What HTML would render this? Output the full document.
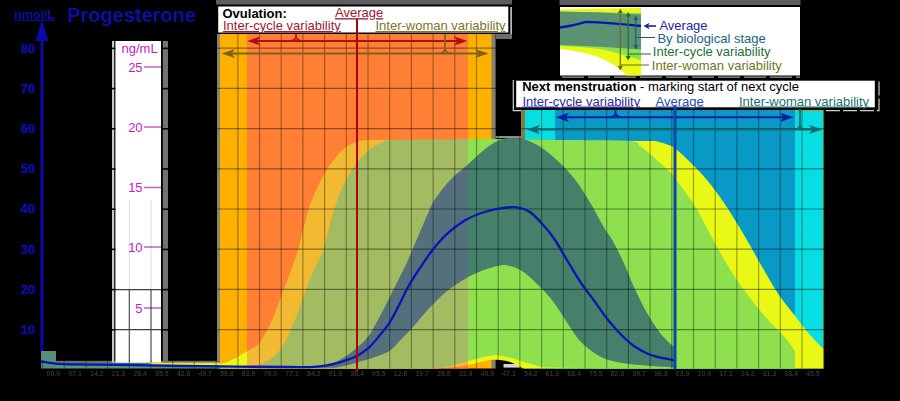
<!DOCTYPE html>
<html><head><meta charset="utf-8"><title>Progesterone</title>
<style>
html,body{margin:0;padding:0;background:#000;}
body{width:900px;height:401px;overflow:hidden;}
svg{display:block;}
text{font-family:"Liberation Sans",sans-serif;}
</style></head>
<body>
<svg width="900" height="401" viewBox="0 0 900 401">
<defs>
<path id="py" d="M220.0 364.0 C221.3 363.6 225.7 362.7 228.0 361.8 C230.3 360.9 232.0 359.9 234.0 358.8 C236.0 357.8 237.9 356.7 240.0 355.5 C242.1 354.3 243.8 353.3 246.8 351.5 C249.8 349.7 254.8 347.8 258.0 344.5 C261.2 341.2 263.4 336.6 266.0 332.0 C268.6 327.4 270.6 323.8 273.5 316.8 C276.4 309.8 280.2 298.9 283.5 290.0 C286.8 281.1 291.1 270.1 293.5 263.4 C295.9 256.7 296.2 255.9 298.0 249.7 C299.8 243.5 302.0 233.4 304.0 226.0 C306.0 218.6 307.5 212.0 310.0 205.0 C312.5 198.0 316.0 190.3 319.0 184.0 C322.0 177.7 324.5 172.7 328.0 167.4 C331.5 162.2 336.5 156.2 340.0 152.5 C343.5 148.8 346.0 146.8 349.0 145.0 C352.0 143.2 355.2 142.2 358.0 141.4 C360.8 140.6 364.7 140.2 366.0 140.0 L655.0 141.0 C656.3 141.3 660.5 142.2 663.0 143.0 C665.5 143.8 667.8 144.5 670.0 145.5 C672.2 146.5 672.7 146.2 676.0 149.0 C679.3 151.8 684.8 156.8 690.0 162.0 C695.2 167.2 701.2 173.1 707.0 180.0 C712.8 186.9 718.8 195.1 724.6 203.7 C730.4 212.3 736.8 222.9 742.0 231.6 C747.2 240.3 750.2 245.9 756.0 256.0 C761.8 266.1 770.6 282.2 777.0 292.0 C783.4 301.8 789.2 308.3 794.4 315.0 C799.6 321.7 803.1 326.7 808.0 332.4 C812.9 338.1 820.9 346.2 823.5 349.0 L823.5 368.5 L524.0 368.5 C521.7 367.4 514.5 363.4 510.0 362.0 C505.5 360.6 501.2 360.0 497.0 359.8 C492.8 359.6 489.5 360.2 485.0 361.0 C480.5 361.8 475.0 363.5 470.0 364.5 C465.0 365.5 460.5 366.3 455.0 367.0 C449.5 367.7 440.0 368.2 437.0 368.5 L220 368.5 Z"/>
<path id="pg" d="M220.0 367.0 C223.3 366.9 233.3 366.8 240.0 366.5 C246.7 366.2 253.3 367.8 260.0 365.0 C266.7 362.2 274.4 356.9 280.0 350.0 C285.6 343.1 289.6 332.4 293.5 323.5 C297.4 314.6 300.2 305.7 303.6 296.8 C307.0 287.9 310.3 277.9 313.6 270.0 C316.9 262.1 320.5 258.0 323.4 249.7 C326.3 241.4 328.2 229.4 331.0 220.0 C333.8 210.6 337.0 200.5 340.0 193.0 C343.0 185.5 346.0 180.3 349.0 175.0 C352.0 169.7 354.5 165.7 358.0 161.4 C361.5 157.2 366.0 152.7 370.0 149.5 C374.0 146.3 378.3 144.1 382.0 142.5 C385.7 140.9 382.3 140.5 392.0 140.0 C401.7 139.5 423.7 139.7 440.0 139.5 C456.3 139.3 481.7 139.1 490.0 139.0 L560.0 140.0 C571.5 140.2 615.7 140.0 629.0 141.0 C642.3 142.0 636.5 143.8 640.0 146.0 C643.5 148.2 646.7 151.2 650.0 154.0 C653.3 156.8 656.3 159.7 660.0 163.0 C663.7 166.3 668.7 170.3 672.0 174.0 C675.3 177.7 676.2 179.7 680.0 185.0 C683.8 190.3 690.0 197.8 695.0 206.0 C700.0 214.2 705.0 224.8 710.0 234.0 C715.0 243.2 720.0 252.6 725.0 261.0 C730.0 269.4 735.0 277.2 740.0 284.5 C745.0 291.8 750.0 298.2 755.0 304.5 C760.0 310.8 765.0 316.5 770.0 322.0 C775.0 327.5 780.8 332.7 785.0 337.5 C789.2 342.3 793.3 348.8 795.0 351.0 L795 368.5 L600.0 368.5 C591.3 368.3 558.7 368.0 548.0 367.5 C537.3 367.0 540.0 366.4 536.0 365.5 C532.0 364.6 528.3 363.3 524.0 362.0 C519.7 360.7 514.7 358.6 510.0 357.5 C505.3 356.4 500.3 355.4 496.0 355.3 C491.7 355.2 488.7 356.1 484.0 357.0 C479.3 357.9 473.3 359.6 468.0 361.0 C462.7 362.4 457.2 364.2 452.0 365.5 C446.8 366.8 439.5 368.0 437.0 368.5 L220 368.5 Z"/>
<path id="pt" d="M305.0 367.8 C307.2 367.6 313.0 367.8 318.0 366.8 C323.0 365.8 330.3 363.8 335.0 362.0 C339.7 360.2 342.4 358.4 346.0 356.0 C349.6 353.6 353.0 351.1 356.8 347.7 C360.6 344.3 364.8 341.2 368.8 335.7 C372.8 330.2 377.2 321.3 380.7 314.8 C384.2 308.3 386.7 302.9 389.7 296.9 C392.7 290.9 396.0 284.3 398.7 278.9 C401.4 273.5 403.4 270.0 406.0 264.5 C408.6 259.0 411.5 251.8 414.0 246.0 C416.5 240.2 418.7 234.9 421.0 229.5 C423.3 224.1 425.8 218.3 428.0 213.5 C430.2 208.7 430.4 206.3 434.0 200.8 C437.6 195.3 444.2 186.6 449.8 180.6 C455.4 174.6 461.5 170.2 467.3 165.0 C473.1 159.8 479.5 153.3 484.7 149.2 C489.9 145.1 494.3 142.4 498.7 140.5 C503.1 138.6 506.6 138.2 511.0 138.0 C515.4 137.8 519.8 137.8 525.0 139.5 C530.2 141.2 536.2 144.1 542.0 148.0 C547.8 151.9 554.5 157.8 560.0 163.0 C565.5 168.2 569.8 172.8 574.8 179.3 C579.8 185.8 584.7 193.6 589.7 201.8 C594.7 210.0 600.9 222.3 604.7 228.7 C608.5 235.1 609.1 234.2 612.3 240.0 C615.5 245.8 620.4 255.7 624.0 263.5 C627.6 271.3 630.1 278.6 634.0 287.0 C637.9 295.4 643.1 306.2 647.6 314.0 C652.1 321.8 656.4 328.3 661.0 334.0 C665.6 339.7 672.7 345.7 675.0 348.0 L675 367.6 C671.0 367.3 658.9 366.6 651.0 366.0 C643.1 365.4 634.8 364.9 627.5 363.8 C620.2 362.7 612.6 361.2 607.0 359.4 C601.4 357.5 598.5 355.8 594.0 352.7 C589.5 349.6 584.5 346.1 580.0 341.0 C575.5 335.9 571.4 328.9 567.0 322.4 C562.6 315.9 558.0 307.9 553.5 302.0 C549.0 296.1 544.8 291.8 540.0 287.0 C535.2 282.2 529.7 276.4 525.0 273.0 C520.3 269.6 516.2 267.8 512.0 266.5 C507.8 265.2 505.3 264.7 500.0 265.5 C494.7 266.3 485.4 269.4 480.0 271.4 C474.6 273.4 471.6 275.1 467.5 277.4 C463.4 279.6 459.5 282.1 455.5 284.9 C451.5 287.6 447.5 290.4 443.5 293.9 C439.5 297.4 435.6 301.6 431.6 305.8 C427.6 310.0 423.1 315.3 419.6 319.3 C416.1 323.3 413.6 326.6 410.6 329.8 C407.6 333.0 405.2 335.2 401.7 338.7 C398.2 342.2 394.2 347.6 389.7 350.7 C385.2 353.8 380.2 355.0 374.8 357.0 C369.4 359.0 361.8 361.1 357.0 362.5 C352.2 363.9 349.7 364.6 346.0 365.5 C342.3 366.4 336.8 367.4 335.0 367.8 Z"/>
<clipPath id="cIn"><rect x="247" y="30" width="221" height="345"/></clipPath>
<clipPath id="cOut"><rect x="0" y="30" width="247" height="345"/><rect x="468" y="30" width="440" height="345"/></clipPath>
<filter id="b1" x="-5%" y="-20%" width="110%" height="140%"><feGaussianBlur stdDeviation="0.7"/></filter>
<filter id="b2" x="-5%" y="-20%" width="110%" height="140%"><feGaussianBlur stdDeviation="0.55"/></filter>
</defs>
<rect width="900" height="401" fill="#000"/>
<!-- top gray bars -->
<rect x="216" y="0" width="296" height="4.5" fill="#5e5e5e"/>
<rect x="559.5" y="0" width="241" height="5" fill="#5e5e5e"/>

<!-- ovulation region -->
<rect x="217" y="34" width="4" height="334.5" fill="#8a8468"/>
<rect x="491" y="34" width="4.6" height="334.5" fill="#85806a"/>
<rect x="220" y="34" width="271.5" height="334.5" fill="#fdb000"/>
<rect x="247" y="34" width="221" height="334.5" fill="#ff7f35"/>
<!-- menstruation region -->
<rect x="521" y="110" width="4.5" height="258.5" fill="#8a7a40"/>
<rect x="525" y="110" width="298.5" height="258.5" fill="#08dde2"/>
<rect x="555" y="110" width="240" height="258.5" fill="#0899c6"/>
<path d="M795 110.4H823.6V368.5" stroke="#a0a030" stroke-width="1" fill="none"/>

<rect x="503.5" y="364" width="17" height="3.6" fill="#d4d4d4"/>
<rect x="495.6" y="136" width="25.4" height="2.2" fill="#8c8c8c"/>
<rect x="56" y="360.8" width="164" height="2.6" fill="#6e6e6e"/>
<!-- ng/mL panel -->
<rect x="112" y="41" width="2.2" height="321.7" fill="#c8c8c8"/>
<rect x="162.8" y="41" width="5.2" height="321.7" fill="#727272"/>
<rect x="115.4" y="41" width="45.6" height="321.7" fill="#fff"/>
<g fill="#c41cc4" font-size="13">
<text x="121.5" y="52.5">ng/mL</text>
<text x="142.6" y="71.6" text-anchor="end">25</text>
<text x="142.6" y="131.6" text-anchor="end">20</text>
<text x="142.6" y="192" text-anchor="end">15</text>
<text x="142.6" y="251.6" text-anchor="end">10</text>
<text x="142.6" y="312.6" text-anchor="end">5</text>
</g>
<g stroke="#c860c8" stroke-width="1.3">
<path d="M144 67H161M144 127H161M144 187.5H161M144 247H161M144 308H161"/>
</g>

<g stroke="#000" fill="none">
<path d="M129.3 200V290M151 200V290" stroke-opacity="0.12" stroke-width="1.2"/>
<path d="M129.3 289.5V362M151 289.5V362M115 289.6H161M115 329.6H161" stroke-opacity="0.75" stroke-width="1.1"/>
</g>
<g fill="#000">
<rect x="111" y="47.6" width="4.4" height="1.6"/><rect x="111" y="87.8" width="4.4" height="1.6"/><rect x="111" y="128" width="4.4" height="1.6"/><rect x="111" y="168.2" width="4.4" height="1.6"/><rect x="111" y="208.4" width="4.4" height="1.6"/><rect x="111" y="248.6" width="4.4" height="1.6"/><rect x="111" y="288.8" width="4.4" height="1.6"/><rect x="111" y="329" width="4.4" height="1.6"/>
<rect x="161" y="47.6" width="8" height="1.6"/><rect x="161" y="87.8" width="8" height="1.6"/><rect x="161" y="128" width="8" height="1.6"/><rect x="161" y="168.2" width="8" height="1.6"/><rect x="161" y="208.4" width="8" height="1.6"/><rect x="161" y="248.6" width="8" height="1.6"/><rect x="161" y="288.8" width="8" height="1.6"/><rect x="161" y="329" width="8" height="1.6"/>
</g>
<!-- left axis -->
<path d="M42 41V352" stroke="#0a0aa8" stroke-width="3" fill="none"/>
<path d="M42 20L35.5 41H48.5Z" fill="#0a0aa8"/>
<g filter="url(#b2)" fill="#0a0aa8" stroke="#0a0aa8" stroke-width="0.5" font-size="13" font-weight="bold" text-anchor="end">
<text x="35" y="52.5">80</text>
<text x="35" y="92.7">70</text>
<text x="35" y="132.9">60</text>
<text x="35" y="173.1">50</text>
<text x="35" y="213.3">40</text>
<text x="35" y="253.5">30</text>
<text x="35" y="293.7">20</text>
<text x="35" y="333.9">10</text>
</g>
<!-- left bottom strip -->
<rect x="41" y="351" width="15" height="17.5" fill="#5a8c7a"/>
<rect x="56" y="363.2" width="164" height="5.3" fill="#529a7a"/>
<rect x="150" y="362.6" width="70" height="2.6" fill="#e4ec20"/>
<!-- curves, outside inner ovulation -->
<g clip-path="url(#cOut)">
<use href="#py" fill="#eaf816"/>
<use href="#pg" fill="#8fe04e"/>
<use href="#pt" fill="#44806a"/>
</g>
<g clip-path="url(#cIn)">
<use href="#py" fill="#f2b933"/>
<use href="#pg" fill="#a3bc62"/>
<use href="#pt" fill="#54707c"/>
</g>

<!-- grid -->
<g stroke="#000" stroke-opacity="0.42" stroke-width="1.2" fill="none">
<path stroke-opacity="0.34" d="M42.5 360.5V368.5"/>
<path stroke-opacity="0.34" d="M64.2 360.5V368.5"/>
<path stroke-opacity="0.34" d="M85.9 360.5V368.5"/>
<path stroke-opacity="0.34" d="M107.6 360.5V368.5"/>
<path stroke-opacity="0.34" d="M129.3 360.5V368.5"/>
<path stroke-opacity="0.34" d="M151.0 360.5V368.5"/>
<path stroke-opacity="0.34" d="M172.7 360.5V368.5"/>
<path stroke-opacity="0.34" d="M194.4 360.5V368.5"/>
<path stroke-opacity="0.34" d="M216.1 34.0V368.5"/>
<path stroke-opacity="0.34" d="M237.8 34.0V368.5"/>
<path stroke-opacity="0.34" d="M259.5 34.0V368.5"/>
<path stroke-opacity="0.34" d="M281.2 34.0V368.5"/>
<path stroke-opacity="0.34" d="M302.9 34.0V368.5"/>
<path stroke-opacity="0.34" d="M324.6 34.0V368.5"/>
<path stroke-opacity="0.34" d="M346.3 34.0V368.5"/>
<path stroke-opacity="0.34" d="M368.0 34.0V368.5"/>
<path stroke-opacity="0.34" d="M389.7 34.0V368.5"/>
<path stroke-opacity="0.34" d="M411.4 34.0V368.5"/>
<path stroke-opacity="0.34" d="M433.1 34.0V368.5"/>
<path stroke-opacity="0.34" d="M454.8 34.0V368.5"/>
<path stroke-opacity="0.34" d="M476.5 34.0V368.5"/>
<path stroke-opacity="0.34" d="M498.2 34.0V368.5"/>
<path stroke-opacity="0.34" d="M519.9 34.0V368.5"/>
<path stroke-opacity="0.34" d="M541.6 34.0V368.5"/>
<path stroke-opacity="0.34" d="M563.3 34.0V368.5"/>
<path stroke-opacity="0.34" d="M585.0 34.0V368.5"/>
<path stroke-opacity="0.34" d="M606.7 34.0V368.5"/>
<path stroke-opacity="0.34" d="M628.4 34.0V368.5"/>
<path stroke-opacity="0.34" d="M650.1 34.0V368.5"/>
<path stroke-opacity="0.34" d="M671.8 34.0V368.5"/>
<path stroke-opacity="0.34" d="M693.5 34.0V368.5"/>
<path stroke-opacity="0.34" d="M715.2 34.0V368.5"/>
<path stroke-opacity="0.34" d="M736.9 34.0V368.5"/>
<path stroke-opacity="0.34" d="M758.6 34.0V368.5"/>
<path stroke-opacity="0.34" d="M780.3 34.0V368.5"/>
<path stroke-opacity="0.34" d="M802.0 34.0V368.5"/>
<path stroke-opacity="0.34" d="M823.7 34.0V368.5"/>
<path d="M216 369.8H824"/>
<path d="M216 329.6H824"/>
<path d="M216 289.4H824"/>
<path d="M216 249.2H824"/>
<path d="M216 209.0H824"/>
<path d="M216 168.8H824"/>
<path d="M216 128.6H824"/>
<path d="M216 88.4H824"/>
<path d="M216 48.2H824"/>
</g>

<!-- average lines -->
<!-- blue curve -->
<path d="M42.0 361.5 C43.2 361.7 46.5 362.4 49.0 362.8 C51.5 363.2 53.5 363.6 57.0 363.8 C60.5 364.1 59.5 364.1 70.0 364.3 C80.5 364.5 98.3 364.6 120.0 364.9 C141.7 365.2 171.7 365.8 200.0 366.2 C228.3 366.6 271.0 366.9 290.0 367.0 C309.0 367.1 307.8 367.2 314.0 366.9 C320.2 366.6 322.9 366.0 327.0 365.3 C331.1 364.6 333.9 364.2 338.9 362.7 C343.9 361.1 351.8 358.5 356.8 356.0 C361.8 353.5 364.8 351.3 368.8 347.7 C372.8 344.1 377.2 338.4 380.7 334.2 C384.2 330.0 386.7 327.0 389.7 322.3 C392.7 317.6 395.7 311.5 398.7 305.8 C401.7 300.1 404.6 293.4 407.6 287.9 C410.6 282.4 413.7 277.6 416.6 273.0 C419.5 268.4 422.3 264.4 425.0 260.5 C427.7 256.6 430.3 252.9 433.0 249.5 C435.7 246.1 438.2 243.0 441.0 240.0 C443.8 237.0 445.4 234.8 449.8 231.3 C454.2 227.8 461.5 222.2 467.3 219.0 C473.1 215.8 479.5 213.7 484.7 212.0 C489.9 210.3 493.5 209.4 498.7 208.6 C503.9 207.8 510.8 206.7 516.0 207.3 C521.2 207.9 525.2 208.7 530.0 212.0 C534.8 215.3 540.8 222.3 545.0 227.0 C549.2 231.7 551.3 234.5 555.0 240.0 C558.7 245.5 562.8 253.0 567.0 260.0 C571.2 267.0 575.9 275.2 580.4 282.0 C584.9 288.8 589.5 294.3 594.0 300.5 C598.5 306.7 602.8 313.4 607.3 319.0 C611.8 324.6 616.2 329.7 620.7 334.2 C625.2 338.7 629.5 342.8 634.0 346.0 C638.5 349.2 643.1 351.8 647.6 353.7 C652.1 355.6 656.4 356.6 661.0 357.7 C665.6 358.8 672.7 359.9 675.0 360.4" stroke="#0a14b4" stroke-width="2.3" fill="none" stroke-linecap="round"/>

<!-- bottom label smudges -->
<g id="smudge" filter="url(#b1)" fill="#323232" font-size="7" font-weight="bold" text-anchor="middle"><text x="53.4" y="376.3">00.0</text><text x="75.0" y="376.3">07.1</text><text x="96.8" y="376.3">14.2</text><text x="118.4" y="376.3">21.3</text><text x="140.2" y="376.3">28.4</text><text x="161.8" y="376.3">35.5</text><text x="183.5" y="376.3">42.6</text><text x="205.2" y="376.3">49.7</text><text x="226.9" y="376.3">56.8</text><text x="248.6" y="376.3">63.9</text><text x="270.4" y="376.3">70.0</text><text x="292.1" y="376.3">77.1</text><text x="313.8" y="376.3">84.2</text><text x="335.4" y="376.3">91.3</text><text x="357.2" y="376.3">98.4</text><text x="378.9" y="376.3">05.5</text><text x="400.6" y="376.3">12.6</text><text x="422.2" y="376.3">19.7</text><text x="443.9" y="376.3">26.8</text><text x="465.7" y="376.3">33.9</text><text x="487.4" y="376.3">40.0</text><text x="509.1" y="376.3">47.1</text><text x="530.8" y="376.3">54.2</text><text x="552.4" y="376.3">61.3</text><text x="574.1" y="376.3">68.4</text><text x="595.9" y="376.3">75.5</text><text x="617.5" y="376.3">82.6</text><text x="639.2" y="376.3">89.7</text><text x="661.0" y="376.3">96.8</text><text x="682.6" y="376.3">03.9</text><text x="704.4" y="376.3">10.0</text><text x="726.0" y="376.3">17.1</text><text x="747.8" y="376.3">24.2</text><text x="769.5" y="376.3">31.3</text><text x="791.1" y="376.3">38.4</text><text x="812.9" y="376.3">45.5</text></g>


<!-- arrows ovulation -->
<g fill="none" stroke-width="2">
<path d="M252 41H462" stroke="#b01014"/>
<path d="M226 53.5H484" stroke="#80601c"/>
</g>
<path d="M247 41L260.5 36.4L257 41L260.5 45.6Z" fill="#b01014"/>
<path d="M467.5 41L454 36.4L457.5 41L454 45.6Z" fill="#b01014"/>
<path d="M221.5 53.5L235 48.9L231.5 53.5L235 58.1Z" fill="#80601c"/>
<path d="M488.5 53.5L475 48.9L478.5 53.5L475 58.1Z" fill="#80601c"/>
<path d="M296 33.5V36Q296 40.5 289.5 41M296 36Q296 40.5 302.5 41" stroke="#b01014" stroke-width="1.7" fill="none"/>
<path d="M445 33.5V48.5Q445 53 438.5 53.5M445 48.5Q445 53 451.5 53.5" stroke="#80601c" stroke-width="1.7" fill="none"/>
<!-- arrows menstruation -->
<g fill="none" stroke-width="2">
<path d="M560 117.3H789" stroke="#0c1ca0"/>
<path d="M531 129.5H818" stroke="#186870"/>
</g>
<path d="M555.5 117.3L569 112.7L565.5 117.3L569 121.9Z" fill="#0c1ca0"/>
<path d="M793.5 117.3L780 112.7L783.5 117.3L780 121.9Z" fill="#0c1ca0"/>
<path d="M526.5 129.5L540 124.9L536.5 129.5L540 134.1Z" fill="#186870"/>
<path d="M822.5 129.5L809 124.9L812.5 129.5L809 134.1Z" fill="#186870"/>
<path d="M615.5 108.5V112.3Q615.5 116.8 609 117.3M615.5 112.3Q615.5 116.8 622 117.3" stroke="#0c1ca0" stroke-width="1.7" fill="none"/>
<path d="M800 108.5V124.5Q800 129 793.5 129.5M800 124.5Q800 129 806.5 129.5" stroke="#186870" stroke-width="1.7" fill="none"/>

<rect x="496" y="34" width="16" height="5" fill="#6c6c6c"/>
<rect x="510.4" y="7" width="1.4" height="27" fill="#e4e4e4"/>
<g stroke="#cfcfcf" stroke-width="1.2" fill="none">
<path d="M513.3 80V110.6H521" />
<path d="M826 110.6H879V80" stroke-dasharray="14 3"/>
<path d="M562 77.2H800" stroke-dasharray="22 4" stroke="#9a9a9a"/>
</g>
<!-- Ovulation box -->
<rect x="217.5" y="5.8" width="291.5" height="27.4" fill="#fff" stroke="#000" stroke-width="1.4"/>
<text x="222.5" y="17.8" font-size="13" font-weight="bold" fill="#000">Ovulation:</text>
<text x="335" y="17.2" font-size="13" fill="#a0182c" text-decoration="underline">Average</text>
<text x="223" y="30" font-size="13" fill="#a0182c" text-decoration="underline">Inter-cycle variability</text>
<text x="375.5" y="30" font-size="13" fill="#7a7424" text-decoration="underline">Inter-woman variability</text>

<!-- Next menstruation box -->
<rect x="515.5" y="80" width="360" height="28" fill="#fff" stroke="#000" stroke-width="1.4"/>
<text x="522.2" y="91" font-size="13" fill="#000"><tspan font-weight="bold">Next menstruation</tspan> - marking start of next cycle</text>
<text x="522.4" y="105.5" font-size="13" fill="#2a2aa0" text-decoration="underline">Inter-cycle variability</text>
<text x="655.5" y="105.5" font-size="13" fill="#1c4cb4" text-decoration="underline">Average</text>
<text x="739" y="105.5" font-size="13" fill="#1e6e70" text-decoration="underline">Inter-woman variability</text>

<!-- average lines -->
<path d="M357 19V371.5" stroke="#b0000c" stroke-width="2" fill="none"/>
<path d="M675 106V369.5" stroke="#0848a8" stroke-width="3" fill="none"/>
<!-- Legend box -->
<rect x="560" y="7" width="240" height="68.5" fill="#fff"/>
<g>
<path d="M560 9.5L600 8.6L641 8V75.5H627Q614 63 598 57Q585 52 560 49Z" fill="#eaf816"/>
<path d="M560 11.5L600 12L641 13V60.5Q620 53 600 49Q580 46.5 560 46Z" fill="#8fe04e"/>
<path d="M560 11.5L600 12.5L641 14.5V49.5Q600 46 560 45Z" fill="#5a9272"/>
<path d="M560 27.5Q572 26 586 21.8Q610 22.5 641 26" stroke="#0a14b4" stroke-width="2.3" fill="none"/>
<g fill="none" stroke-width="1.2">
<path d="M620.3 10V69M620.3 65H649" stroke="#6a6a1c"/>
<path d="M628.2 13.5V59M628.2 54H651" stroke="#1c7030"/>
<path d="M635.8 17V48M635.8 37.5H655" stroke="#1c5c78"/>
<path d="M646 26H656" stroke="#1c1ca0" stroke-width="1.6"/>
</g>
<path d="M620.3 8.5L617.8 13H622.8Z M620.3 70.5L617.8 66H622.8Z" fill="#6a6a1c"/>
<path d="M628.2 12L625.7 16.5H630.7Z M628.2 60.5L625.7 56H630.7Z" fill="#1c7030"/>
<path d="M635.8 15.5L633.3 20H638.3Z M635.8 49.5L633.3 45H638.3Z" fill="#1c5c78"/>
<path d="M643.5 26L649.5 22.8L648 26L649.5 29.2Z" fill="#1c1ca0"/>
<g font-size="13">
<text x="659.4" y="29.5" fill="#2424a4">Average</text>
<text x="657.4" y="43.3" fill="#206480">By biological stage</text>
<text x="652.8" y="55.6" fill="#1c7038">Inter-cycle variability</text>
<text x="651.8" y="70.2" fill="#74741c">Inter-woman variability</text>
</g>
</g>

<text filter="url(#b2)" x="14" y="18.5" font-size="12.5" font-weight="bold" fill="#0a0aa8" text-decoration="underline">nmol/L</text>
<text filter="url(#b2)" x="67" y="22" font-size="20" font-weight="bold" fill="#0a0aa8">Progesterone</text>
</svg>
</body></html>
